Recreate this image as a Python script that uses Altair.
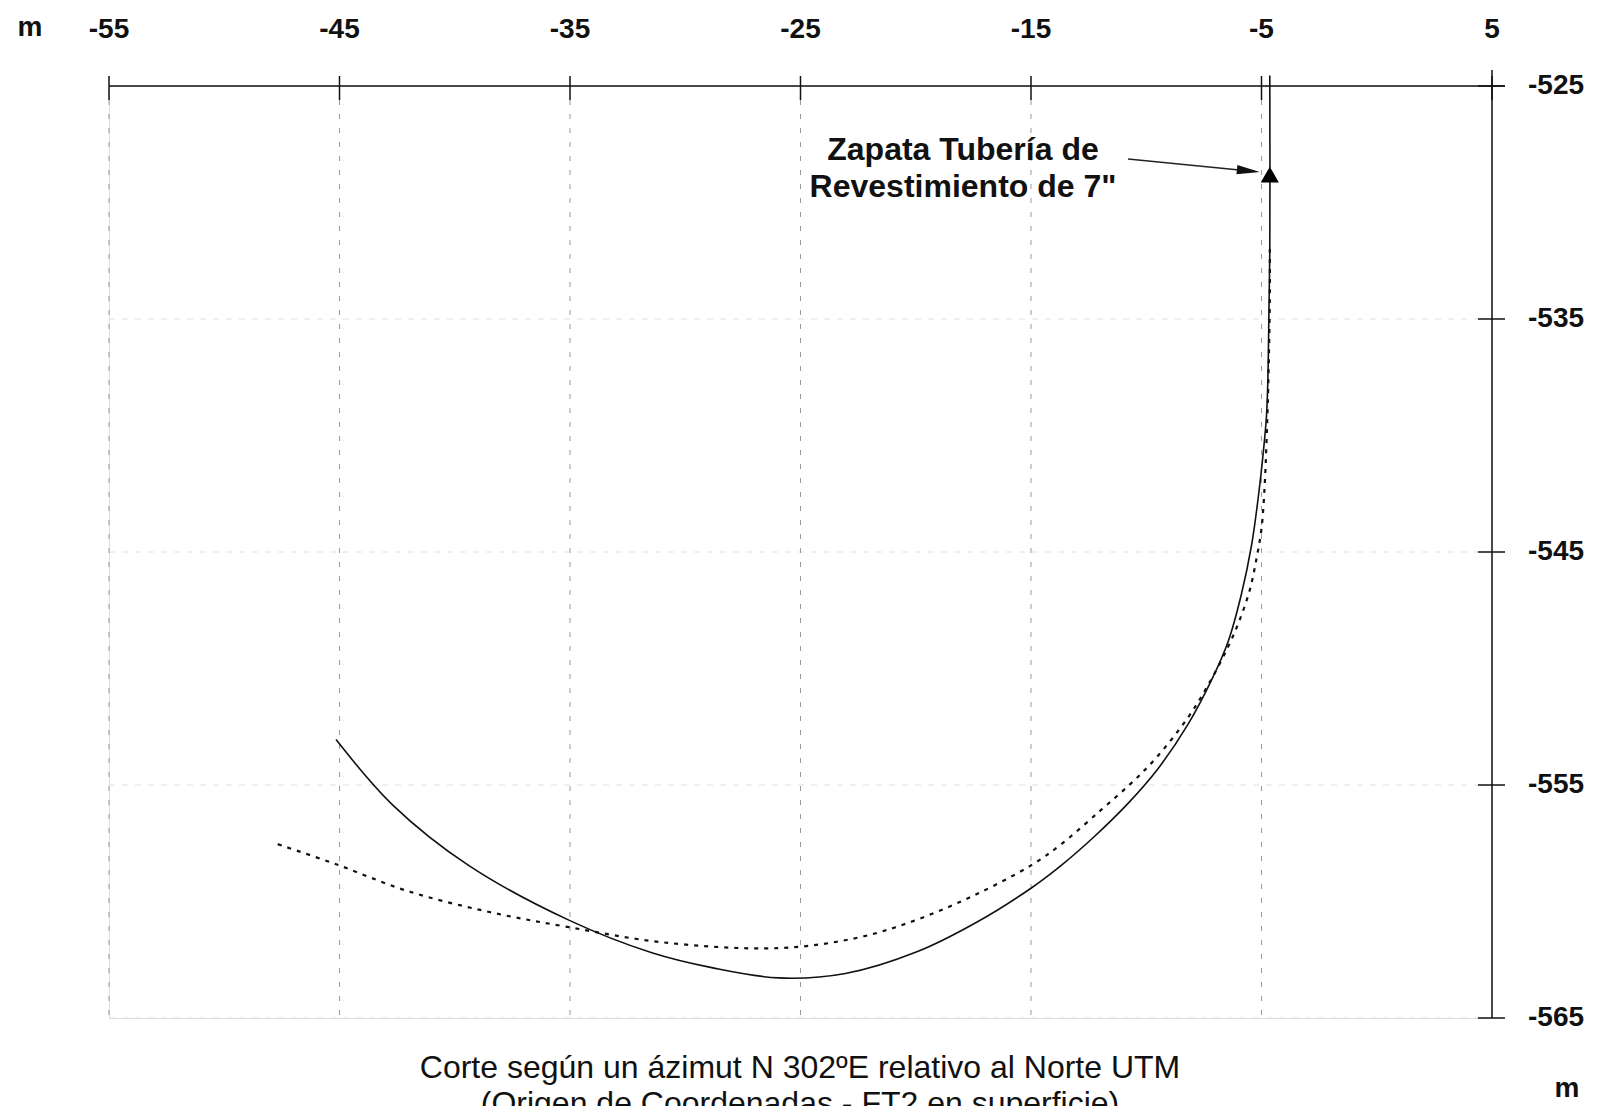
import altair as alt
import pandas as pd

# ---- data ----
x_ticks = [-55, -45, -35, -25, -15, -5, 5]
y_ticks = [-525, -535, -545, -555, -565]
grid_x = [-55, -45, -35, -25, -15, -5]
grid_y = [-535, -545, -555, -565]

# actual well path (solid)
solid_x = [-4.64, -4.64, -4.71, -4.78, -4.93, -5.14, -5.43, -5.87, -6.45, -7.17, -8.19,
           -9.49, -10.8, -12.25, -13.7, -15.0, -17.3, -19.95, -23.05, -25.95, -28.8,
           -31.45, -35.05, -39.4, -42.7, -45.15]
solid_y = [-524.55, -532, -537.0, -539.1, -540.8, -542.65, -544.7, -546.8, -548.85, -550.5, -552.4,
           -554.3, -555.8, -557.21, -558.46, -559.43, -560.86, -562.16, -563.09, -563.28, -562.85,
           -562.2, -560.8, -558.45, -555.85, -553.05]

# planned path (dotted)
dotted_x = [-4.64, -4.64, -4.71, -4.78, -4.86, -5.0, -5.22, -5.5, -5.94, -6.45, -7.3, -8.2,
            -9.6, -10.65, -11.96, -13.7, -15.0, -17.5, -20.0, -22.5, -25.95, -31.0,
            -35.05, -38.5, -42.05, -45.15, -47.8]
dotted_y = [-532, -534.2, -538.0, -540.2, -542.1, -544.0, -545.3, -546.6, -547.9, -549.07, -550.68, -552.12,
            -553.87, -554.92, -556.07, -557.55, -558.45, -559.75, -560.8, -561.55, -562.0, -561.75,
            -561.1, -560.45, -559.55, -558.4, -557.5]

shoe_x = [-4.64]
shoe_y = [-528.8]
arrow_x = [-10.79, -5.3]
arrow_y = [-528.13, -528.67]
arrow_head_x = [-5.57]
arrow_head_y = [-528.64]

annot_lines = ["Zapata Tubería de", "Revestimiento de 7\""]
caption_lines = ["Corte según un ázimut N 302ºE relativo al Norte UTM",
                 "(Origen de Coordenadas - FT2 en superficie)"]
unit_label = "m"

# ---- layout ----
W, H = 1383, 932
FONT = "Liberation Sans, Arial, sans-serif"

xs = alt.Scale(domain=[-55, 5], nice=False, zero=False)
ys = alt.Scale(domain=[-565, -525], nice=False, zero=False)

def X(f):
    return alt.X(f, type="quantitative", scale=xs, axis=None)

def Y(f):
    return alt.Y(f, type="quantitative", scale=ys, axis=None)

solid_df = pd.DataFrame({"x": solid_x, "y": solid_y, "i": range(len(solid_x))})
dotted_df = pd.DataFrame({"x": dotted_x, "y": dotted_y, "i": range(len(dotted_x))})
gx_df = pd.DataFrame({"x": grid_x})
gy_df = pd.DataFrame({"y": grid_y})
xt_df = pd.DataFrame({"x": x_ticks, "label": [str(v) for v in x_ticks]})
yt_df = pd.DataFrame({"y": y_ticks, "label": [str(v) for v in y_ticks]})
one = pd.DataFrame({"a": [0]})

grid_v = alt.Chart(gx_df).mark_rule(color="#9a9a9a", strokeWidth=1, strokeDash=[5, 9]).encode(
    x=X("x"), y=alt.value(14), y2=alt.value(H))
grid_h = alt.Chart(gy_df).mark_rule(color="#e0e0e0", strokeWidth=1, strokeDash=[6, 7]).encode(
    y=Y("y"), x=alt.value(0), x2=alt.value(W - 14))

top_axis = alt.Chart(one).mark_rule(color="#111", strokeWidth=1.5).encode(
    x=alt.value(0), x2=alt.value(W + 13), y=alt.value(0))
top_ticks = alt.Chart(xt_df).mark_rule(color="#111", strokeWidth=1.5).encode(
    x=X("x"), y=alt.value(-10), y2=alt.value(14))
top_labels = alt.Chart(xt_df).mark_text(font=FONT, fontSize=28, fontWeight="bold", color="#111",
                                        align="center", baseline="alphabetic").encode(
    x=X("x"), y=alt.value(-48), text="label:N")

right_axis = alt.Chart(one).mark_rule(color="#111", strokeWidth=1.5).encode(
    x=alt.value(W), y=alt.value(-16), y2=alt.value(H))
right_ticks = alt.Chart(yt_df).mark_rule(color="#111", strokeWidth=1.5).encode(
    y=Y("y"), x=alt.value(W - 14), x2=alt.value(W + 13))
right_labels = alt.Chart(yt_df).mark_text(font=FONT, fontSize=28, fontWeight="bold", color="#111",
                                          align="left", baseline="middle").encode(
    y=Y("y"), x=alt.value(W + 36), text="label:N")

unit_top = alt.Chart(one).mark_text(font=FONT, fontSize=28, fontWeight="bold", color="#111",
                                    align="center", baseline="alphabetic", text=unit_label).encode(
    x=alt.value(-79), y=alt.value(-50))
unit_bottom = alt.Chart(one).mark_text(font=FONT, fontSize=28, fontWeight="bold", color="#111",
                                       align="center", baseline="alphabetic", text=unit_label).encode(
    x=alt.value(W + 75), y=alt.value(1011))

solid = alt.Chart(solid_df).mark_line(color="#111", strokeWidth=1.6, interpolate="catmull-rom").encode(
    x=X("x"), y=Y("y"), order="i:Q")
dotted = alt.Chart(dotted_df).mark_line(color="#111", strokeWidth=2.2, strokeDash=[4, 6],
                                        interpolate="catmull-rom").encode(
    x=X("x"), y=Y("y"), order="i:Q")

shoe = alt.Chart(pd.DataFrame({"x": shoe_x, "y": shoe_y})).mark_point(
    shape="triangle-up", filled=True, color="#000", size=330, opacity=1).encode(x=X("x"), y=Y("y"))

arrow_line = alt.Chart(pd.DataFrame({"x": arrow_x, "y": arrow_y, "i": [0, 1]})).mark_line(
    color="#222", strokeWidth=1.6).encode(x=X("x"), y=Y("y"), order="i:Q")
arrow_head = alt.Chart(pd.DataFrame({"x": arrow_head_x, "y": arrow_head_y})).mark_point(
    shape="M1,0 L-1,-0.4 L-1,0.4 Z", filled=True, color="#111", size=529, opacity=1, angle=5.6).encode(
    x=X("x"), y=Y("y"))

annot = alt.Chart(pd.DataFrame({"t": annot_lines, "yy": [74, 111]})).mark_text(
    font=FONT, fontSize=32, fontWeight="bold", color="#111", align="center", baseline="alphabetic").encode(
    x=alt.value(854), y=alt.Y("yy:Q", scale=None, axis=None), text="t:N")

caption = alt.Chart(pd.DataFrame({"t": caption_lines, "yy": [992, 1028]})).mark_text(
    font=FONT, fontSize=32, color="#111", align="center", baseline="alphabetic").encode(
    x=alt.value(691), y=alt.Y("yy:Q", scale=None, axis=None), text="t:N")

chart = alt.layer(
    grid_h, grid_v, top_axis, top_ticks, top_labels, right_axis, right_ticks, right_labels,
    unit_top, unit_bottom, dotted, solid, shoe, arrow_line, arrow_head, annot, caption
).properties(
    width=W, height=H,
    autosize=alt.AutoSizeParams(type="none"),
    padding={"left": 101, "top": 78, "right": 97, "bottom": 88},
).configure_view(strokeWidth=0).configure(background="white")

chart.save("out.html", embed_options={"renderer": "svg", "actions": False})
